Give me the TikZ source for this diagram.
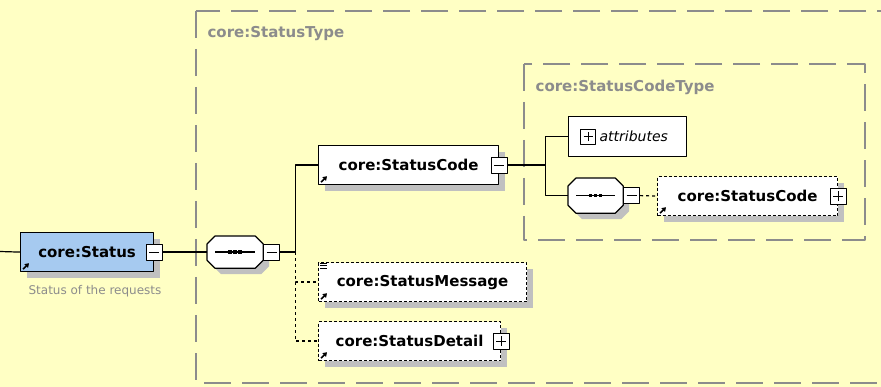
\documentclass[tikz,border=0pt]{standalone}
\usepackage{fontspec}
\setmainfont{DejaVu Sans}
\usetikzlibrary{shadows,arrows.meta}
\definecolor{bgyellow}{RGB}{255,255,196}
\definecolor{elemblue}{RGB}{166,202,240}
\definecolor{shadowgray}{RGB}{192,192,192}
\definecolor{framegray}{RGB}{140,140,140}
\tikzset{
  boxshadow/.style={drop shadow={shadow xshift=6pt, shadow yshift=-6pt, fill=shadowgray, opacity=1}},
  elem/.style={draw, fill=white, line width=1.2pt, minimum height=39pt, inner sep=0pt,
    anchor=north west, font=\bfseries\fontsize{15}{18}\selectfont, boxshadow},
  optelem/.style={elem, dash pattern=on 3pt off 2pt},
  attrbox/.style={draw, fill=white, line width=1.2pt, minimum width=118pt, minimum height=40pt,
    inner sep=0pt, anchor=north west},
  seqbox/.style={minimum width=55pt, minimum height=31pt, inner sep=0pt, anchor=north west},
  collapse/.style={draw, fill=white, line width=1pt, minimum size=16pt, inner sep=0pt,
    path picture={\draw[line width=1pt] ([xshift=3pt]path picture bounding box.west)
      -- ([xshift=-3pt]path picture bounding box.east);}},
  expand/.style={collapse,
    path picture={\draw[line width=1pt] ([xshift=3pt]path picture bounding box.west)
      -- ([xshift=-3pt]path picture bounding box.east)
      ([yshift=3pt]path picture bounding box.south) -- ([yshift=-3pt]path picture bounding box.north);}},
  frame/.style={draw=framegray, line width=1.3pt, dash pattern=on 27pt off 11pt},
  framelabel/.style={text=framegray, anchor=base west, inner sep=0pt,
    font=\bfseries\fontsize{15}{18}\selectfont},
  desc/.style={text=framegray, anchor=west, inner sep=0pt, font=\fontsize{12}{14}\selectfont},
  optline/.style={dash pattern=on 3pt off 3pt},
  refarrow/.style={-{Triangle[length=4pt,width=5pt]}, line width=1.5pt}
}
\begin{document}
\begin{tikzpicture}[x=1pt, y=-1pt, line width=1.2pt, line join=round]
  \fill[bgyellow] (0,0) rectangle (881,387);
  \useasboundingbox (0,0) rectangle (881,387);
  \clip (0,0) rectangle (881,387);
  % complex types
  \draw[frame] (196,11) rectangle (900,383);
  \node[framelabel] (typelabel) at (207,38) {core:StatusType};
  \draw[frame] (524,64) rectangle (865,240);
  \node[framelabel] (codetypelabel) at (535,92) {core:StatusCodeType};

  % sequences (octagons)
  \node[seqbox] (seq1) at (207,236) {};
  \node[seqbox, minimum width=54pt, minimum height=34pt] (seq2) at (568,178) {};
  \foreach \s in {seq1,seq2}{
    \draw[fill=white, boxshadow] ([xshift=8pt]\s.north west) -- ([xshift=-8pt]\s.north east)
      -- ([yshift=-8pt]\s.north east) -- ([yshift=8pt]\s.south east)
      -- ([xshift=-8pt]\s.south east) -- ([xshift=8pt]\s.south west)
      -- ([yshift=8pt]\s.south west) -- ([yshift=-8pt]\s.north west) -- cycle;
    \draw ([xshift=8pt]\s.west) -- ([xshift=-8pt]\s.east);
    \foreach \d in {-5,0,5}
      \fill ([xshift=\d pt]\s.center) +(-1.7pt,-1.7pt) rectangle +(1.7pt,1.7pt);
  }

  % elements
  \node[elem, fill=elemblue, minimum width=133pt] (status) at (20,232) {core:Status};
  \node[collapse] (statusbtn) at (status.east) {};
  \node[desc] (statusdesc) at (28,291) {Status of the requests};
  \node[collapse, anchor=west] (seq1btn) at (seq1.east) {};
  \node[elem, minimum width=180pt] (code) at (318,145) {core:StatusCode};
  \node[collapse] (codebtn) at (code.east) {};
  \node[optelem, minimum width=208pt] (msg) at (318,262) {core:StatusMessage};
  \node[optelem, minimum width=182pt] (detail) at (318,321) {core:StatusDetail};
  \node[expand] (detailbtn) at (detail.east) {};
  \node[attrbox] (attr) at (568,116) {};
  \node[expand, minimum size=15pt, anchor=west] (attrbtn) at ([xshift=12pt]attr.west) {};
  \node[anchor=west, inner sep=3pt, font=\itshape\fontsize{14}{17}\selectfont] (attrtext) at (attrbtn.east) {attributes};
  \node[collapse, anchor=west] (seq2btn) at (seq2.east) {};
  \node[optelem, minimum width=180pt] (code2) at (657,176) {core:StatusCode};
  \node[expand] (code2btn) at (code2.east) {};

  % connectors
  \coordinate (entry) at (0,251.5);
  \draw (entry) -- (status.west);
  \draw (statusbtn.east) -- (seq1.west);
  \draw (seq1btn.east) -- ++(15,0) coordinate (fork1) |- (code.west);
  \draw[optline] (fork1) |- (msg.west);
  \draw[optline] (fork1) |- (detail.west);
  \draw (codebtn.east) -- ++(38,0) coordinate (fork2) |- (attr.west);
  \draw (fork2) |- (seq2.west);
  \draw[optline] (seq2btn.east) -- (code2.west);

  % icons
  \foreach \n in {status,code,msg,detail,code2}
    \draw[refarrow] ([shift={(3pt,3pt)}]\n.south west) -- ++(6pt,6pt);
  \foreach \l in {1,3.5,6}
    \draw[line width=0.9pt] ([xshift=2pt,yshift=-\l pt]msg.north west) -- ++(7pt,0pt);
\end{tikzpicture}
\end{document}
